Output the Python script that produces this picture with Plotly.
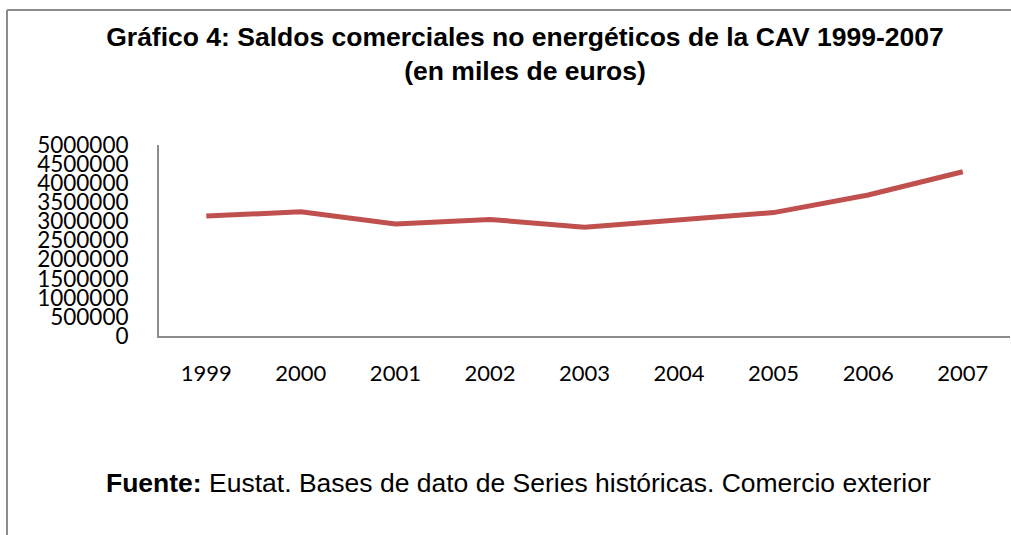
import plotly.graph_objects as go

years = ["1999", "2000", "2001", "2002", "2003", "2004", "2005", "2006", "2007"]
saldos = [3140000, 3250000, 2930000, 3050000, 2850000, 3040000, 3230000, 3690000, 4300000]
y_ticks = [0, 500000, 1000000, 1500000, 2000000, 2500000, 3000000, 3500000,
           4000000, 4500000, 5000000]
title_text = "<b>Gráfico 4: Saldos comerciales no energéticos de la CAV 1999-2007</b><br><b>(en miles de euros)</b>"
source_text = "<b>Fuente:</b> Eustat. Bases de dato de Series históricas. Comercio exterior"

W, H = 1011, 535
L, R, T, B = 159, 1, 145, 199
pw, ph = W - L - R, H - T - B

def px(x):
    return (x - L) / pw

def py(y):
    return (H - B - y) / ph

fig = go.Figure()
fig.add_trace(go.Scatter(
    x=years, y=saldos, mode="lines",
    line=dict(color="#C0504D", width=5),
    showlegend=False, hoverinfo="x+y"))

fig.update_layout(
    width=W, height=H,
    margin=dict(l=L, r=R, t=T, b=B),
    paper_bgcolor="white", plot_bgcolor="white",
    title=dict(text=title_text, x=525 / W, xref="container", xanchor="center",
               y=1 - 46 / H, yref="container", yanchor="middle",
               font=dict(family="Liberation Sans, Arial", size=26.5, color="black")),
    xaxis=dict(type="category", range=[-0.5, 8.5], showgrid=False,
               showline=True, linecolor="#8c8c8c", linewidth=2,
               ticks="", ticklabelstandoff=17,
               tickfont=dict(family="Lato", size=22, color="black"), fixedrange=True),
    yaxis=dict(range=[0, 5000000], tickmode="array", tickvals=y_ticks,
               ticktext=[str(v) for v in y_ticks], showgrid=False, zeroline=False,
               showline=True, linecolor="#8c8c8c", linewidth=2,
               ticks="", ticklabelstandoff=24,
               tickfont=dict(family="Lato", size=22.5, color="black"), fixedrange=True),
    annotations=[dict(text=source_text, xref="paper", yref="paper",
                      x=px(518), y=py(483), xanchor="center", yanchor="middle",
                      showarrow=False,
                      font=dict(family="Liberation Sans, Arial", size=26.5, color="black"))],
    shapes=[
        dict(type="line", xref="paper", yref="paper", x0=px(7), x1=px(1015),
             y0=py(10), y1=py(10), line=dict(color="#8c8c8c", width=2)),
        dict(type="line", xref="paper", yref="paper", x0=px(7), x1=px(7),
             y0=py(10), y1=py(540), line=dict(color="#8c8c8c", width=2)),
    ],
)

fig.write_html("out.html", config={"displayModeBar": False},
               post_script="document.body.style.margin='0';")
